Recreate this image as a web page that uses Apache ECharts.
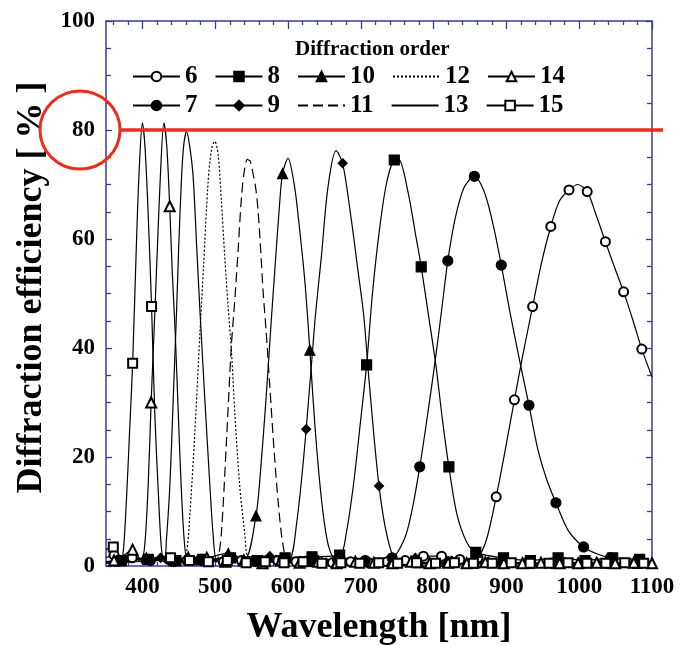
<!DOCTYPE html>
<html><head><meta charset="utf-8">
<script src="https://cdn.jsdelivr.net/npm/echarts@6/dist/echarts.min.js"></script>
<style>html,body{margin:0;padding:0;background:#fff}#c{width:681px;height:646px}</style>
</head><body><div id="c"></div>
<script>
// ---- data (wavelength nm, diffraction efficiency %) ----
const xMajorTicks = [400,500,600,700,800,900,1000,1100];
const xMinorTicks = [360,380,420,440,460,480,520,540,560,580,620,640,660,680,720,740,760,780,820,840,860,880,920,940,960,980,1020,1040,1060,1080];

const line6 = [[350,1.5],[500,0.8],[650,0.6],[850,0.8],[873,5],[898,21],[923,39],[948,55.5],[973,67],[998,70],[1023,64.5],[1048,55],[1074,45],[1100,34.7]];
const mark6 = [[361,2],[386,1.5],[411,1],[436,1.2],[461,1],[486,1.2],[511,0.8],[536,1],[561,0.8],[586,1],[611,0.8],[636,0.8],[661,0.6],[686,0.8],[711,0.6],[736,0.8],[761,1],[786,1.8],[811,1.8],[836,1.2],[861,1.5],[886,12.7],[911,30.5],[936,47.6],[961,62.3],[986,69],[1011,68.7],[1036,59.5],[1061,50.3],[1086,39.8]];

const line7 = [[350,0.8],[760,5],[770,10],[792,28],[803,38.5],[812,48],[830,64],[842,69.5],[870,68.5],[882,62.5],[905,46.5],[920,36.5],[943,21.5],[955,16],[985,6.5],[1025,2.2],[1100,0.8]];
const mark7 = [[368,1],[406,1.2],[443,0.8],[481,1],[518,1.2],[556,0.8],[593,1.2],[631,0.8],[668,1.2],[706,1],[743,1.5],[781,18.2],[819.5,56],[856,71.5],[893,55.2],[931,29.5],[968,11.6],[1006,3.5],[1043,1.5],[1080,1]];

const line8 = [[350,0.8],[680,6],[690,15],[700,27],[716,50],[725,61],[735,70],[752,74.6],[765,68.5],[775,61],[793,46],[803,37],[812,27],[832,9.5],[845,4.5],[1100,0.8]];
const mark8 = [[371,1],[408,1.2],[446,1],[483,1.2],[521,1.5],[558,1],[596,1.5],[633,1.7],[671,2],[708,36.9],[746,74.5],[783,54.9],[821,18.2],[858,2.5],[896,1.5],[933,1],[971,1.5],[1008,1],[1046,1.5],[1083,1.2]];

const line9 = [[350,0.6],[600,1],[612,8],[637,45],[646,57],[655,69.6],[666,76.2],[687,63.5],[696,54.3],[704,46],[712,33],[737,5],[750,1],[1100,0.4]];
const mark9 = [[375,1],[425,1.5],[475,1],[525,1.5],[575,1.8],[625,25.1],[675,73.9],[725,14.7],[775,1.5],[825,1],[875,0.8],[925,0.6],[975,0.5],[1025,0.5],[1075,0.5]];

const line10 = [[350,0.6],[540,1.2],[562,17],[570,31],[577,45],[582,54.5],[588.5,66.5],[600,74.8],[609,69.6],[616,61.7],[623,52.5],[627,45.5],[638,24],[647,11],[656,3.5],[1100,0.4]];
const mark10 = [[368,1],[405.5,1.5],[443,1],[480.5,1.2],[518,2.3],[556,9.2],[592.5,72],[630,39.6],[667.5,1],[705,0.8],[742.5,1],[780,0.6],[817.5,0.8],[855,0.5],[892.5,0.7],[930,0.5],[967.5,0.5],[1005,0.6],[1042.5,0.5],[1080,0.5]];

const line11 = [[350,0.5],[420,1],[470,1.5],[500,1],[504,1.5],[508.5,6],[515.5,23],[522,40],[527,49],[531.5,58],[536,67.5],[540,72.5],[544,74.6],[548,74.3],[552,72],[556,69],[559,65],[562,59],[566,50],[570,43],[575,33],[581,21],[587,11],[593,4],[600,1],[615,1.5],[635,2],[660,1],[700,0.8],[800,0.5],[950,0.5],[1100,0.3]];
const mark11 = [];

const line12 = [[350,0.5],[400,1],[440,1.5],[455,1],[460.5,2.3],[465,9],[472,24.4],[479,42.7],[484,55],[490,70],[495,76.5],[499.5,77.9],[504,75.5],[508.5,67],[513,57],[517.5,48],[522.5,39],[527,28],[533.5,15],[540.5,6],[545,1.7],[555,1.5],[580,2],[600,1],[650,0.8],[750,0.5],[900,0.4],[1100,0.3]];
const mark12 = [];

const line13 = [[350,0.5],[380,1.5],[405,1],[420,1.5],[430,1.1],[433,4.8],[437.8,15],[442.3,30.5],[447,47],[450,59],[453.8,71.4],[457,77.5],[460.6,79.7],[465,77],[469.7,71.4],[474.4,59],[479,47],[485.8,30.5],[492.6,15],[497,6],[502,1.1],[510,1.5],[530,0.8],[560,1.2],[600,0.6],[700,0.5],[800,0.4],[900,0.4],[1100,0.3]];
const mark13 = [];

const line14 = [[350,0.5],[375,2],[398,1.2],[401.5,2],[404.5,6],[408,15],[416,43],[420.5,58],[424.5,71],[429.5,81.3],[433.5,77],[441,54],[445,43],[449,29],[453,15.5],[457,5.5],[461,1.2]];
const mark14 = [[361,1],[386.5,3],[412,30],[437.5,66],[463,1.5],[488.5,1.5],[514,0.8],[539.5,1],[565,0.5],[590.5,1],[616,0.6],[641.5,0.8],[667,0.5],[692.5,0.8],[718,0.6],[743.5,0.5],[769,0.8],[794.5,0.5],[820,0.6],[845.5,0.5],[871,0.7],[896.5,0.5],[922,0.5],[947.5,0.6],[973,0.5],[998.5,0.5],[1024,0.6],[1049.5,0.5],[1075,0.6],[1100,0.5]];

const line15 = [[350,3],[366,1.5],[371,1.5],[374,3],[378.4,13],[382.5,25],[392,60],[395.7,73],[400,81.3],[403.5,77],[407.5,66],[417,28],[421.7,14],[426,3.5],[430,1]];
const mark15 = [[360,3.5],[386.6,37.2],[412.6,47.6],[438.6,1.5],[464.6,1],[490.6,0.8],[516.6,1],[542.6,0.6],[568.6,0.8],[594.6,0.6],[620.6,0.8],[646.6,0.5],[672.6,0.6],[698.6,0.5],[724.6,0.6],[750.6,0.5],[776.6,0.6],[802.6,0.5],[828.6,0.6],[854.6,0.5],[880.6,0.5],[906.6,0.6],[932.6,0.5],[958.6,0.5],[984.6,0.6],[1010.6,0.5],[1036.6,0.5],[1062.6,0.6],[1088.6,0.5]];

const legendRow1 = ['6','8','10','12','14'];
const legendRow2 = ['7','9','11','13','15'];

// ---- build ----
const FONT = 'Liberation Serif';
const AXC = '#3a3a9e';
function build(line, mark, size){
  const pts = line.map(p => ({value:p, symbolSize:0}))
    .concat(mark.map(p => ({value:p, symbolSize:size})));
  pts.sort((a,b) => a.value[0]-b.value[0]);
  return pts;
}
const specs = [
  ['6', line6, mark6, 'emptyCircle', 9, 'solid'],
  ['7', line7, mark7, 'circle', 10, 'solid'],
  ['8', line8, mark8, 'rect', 10, 'solid'],
  ['9', line9, mark9, 'diamond', 9, 'solid'],
  ['10', line10, mark10, 'triangle', 10, 'solid'],
  ['11', line11, mark11, 'none', 0, [10,5]],
  ['12', line12, mark12, 'none', 0, [2,2]],
  ['13', line13, mark13, 'none', 0, 'solid'],
  ['14', line14, mark14, 'emptyTriangle', 10, 'solid'],
  ['15', line15, mark15, 'emptyRect', 9, 'solid']
];
const series = specs.map(s => ({
  name: s[0], type: 'line', data: build(s[1], s[2], s[4]),
  symbol: s[3], showSymbol: s[3] !== 'none', showAllSymbol: true,
  smooth: 0.3, clip: false, animation: false,
  lineStyle: {color:'#000', width:1.2, type:s[5]},
  itemStyle: {color:'#000', borderColor:'#000', borderWidth:1.2}
}));
function legendData(names){
  return names.map(n => (['11','12','13'].indexOf(n) >= 0) ? {name:n, itemStyle:{opacity:0}} : {name:n});
}
const legendCommon = {
  left: 132, itemWidth: 47, itemHeight: 12, itemGap: 17, padding: 0,
  selectedMode: false,
  textStyle: {fontFamily: FONT, fontWeight:'bold', fontSize:25, color:'#000', padding:[0,0,0,0]}
};
const xBase = {type:'value', min:350, max:1100, gridIndex:0, splitLine:{show:false}};
const option = {
  animation: false,
  backgroundColor: '#fff',
  grid: {left:106, right:29, top:21, bottom:80, outerBoundsMode:'none'},
  title: {text:'Diffraction order', left:290, top:34,
    textStyle:{fontFamily:FONT, fontWeight:'bold', fontSize:21, color:'#000'}},
  legend: [
    Object.assign({}, legendCommon, {top:64, data: legendData(legendRow1)}),
    Object.assign({}, legendCommon, {top:93, data: legendData(legendRow2)})
  ],
  xAxis: [
    Object.assign({}, xBase, {position:'bottom',
      axisLine:{show:true, lineStyle:{color:AXC, width:1.5}},
      axisTick:{show:true, inside:true, length:8, customValues:xMajorTicks, lineStyle:{color:AXC, width:1.3}},
      axisLabel:{show:true, customValues:xMajorTicks, margin:10, formatter: v => String(v),
        fontFamily:FONT, fontWeight:'bold', fontSize:23, color:'#000'},
      name:'Wavelength [nm]', nameLocation:'middle', nameGap:44,
      nameTextStyle:{fontFamily:FONT, fontWeight:'bold', fontSize:36, color:'#000'}}),
    Object.assign({}, xBase, {position:'bottom',
      axisLine:{show:false},
      axisTick:{show:true, inside:true, length:4, customValues:xMinorTicks, lineStyle:{color:AXC, width:1.3}},
      axisLabel:{show:false}}),
    Object.assign({}, xBase, {position:'top',
      axisLine:{show:true, lineStyle:{color:AXC, width:1.5}},
      axisTick:{show:true, inside:true, length:8, customValues:xMajorTicks, lineStyle:{color:AXC, width:1.3}},
      axisLabel:{show:false}}),
    Object.assign({}, xBase, {position:'top',
      axisLine:{show:false},
      axisTick:{show:true, inside:true, length:4, customValues:xMinorTicks, lineStyle:{color:AXC, width:1.3}},
      axisLabel:{show:false}})
  ],
  yAxis: [
    {type:'value', min:0, max:100, interval:20, position:'left',
      splitLine:{show:false},
      axisLine:{show:true, lineStyle:{color:AXC, width:1.5}},
      axisTick:{show:true, inside:true, length:6, lineStyle:{color:AXC, width:1.3}},
      minorTick:{show:true, splitNumber:4, length:5, lineStyle:{color:AXC, width:1.3}},
      axisLabel:{margin:11, fontFamily:FONT, fontWeight:'bold', fontSize:23, color:'#000'},
      name:'Diffraction efficiency [ % ]', nameLocation:'middle', nameGap:56,
      nameTextStyle:{fontFamily:FONT, fontWeight:'bold', fontSize:36, color:'#000', padding:[0,0,0,12]}},
    {type:'value', min:0, max:100, interval:20, position:'right',
      splitLine:{show:false},
      axisLine:{show:true, lineStyle:{color:AXC, width:1.5}},
      axisTick:{show:true, inside:true, length:6, lineStyle:{color:AXC, width:1.3}},
      minorTick:{show:true, splitNumber:4, length:5, lineStyle:{color:AXC, width:1.3}},
      axisLabel:{show:false}}
  ],
  series: series
};
const chart = echarts.init(document.getElementById('c'), null, {renderer:'canvas'});
chart.setOption(option);
// red annotation: circle around the 80 label and a horizontal line at 80 %
const y80 = chart.convertToPixel({yAxisIndex:0}, 80);
chart.setOption({graphic:[
  {type:'ellipse', shape:{cx:80, cy:y80, rx:40, ry:39}, style:{fill:null, stroke:'#ec2d1c', lineWidth:3}, z:100},
  {type:'line', shape:{x1:119, y1:y80, x2:663, y2:y80}, style:{stroke:'#ec2d1c', lineWidth:3.5}, z:100}
]});
</script>
</body></html>
